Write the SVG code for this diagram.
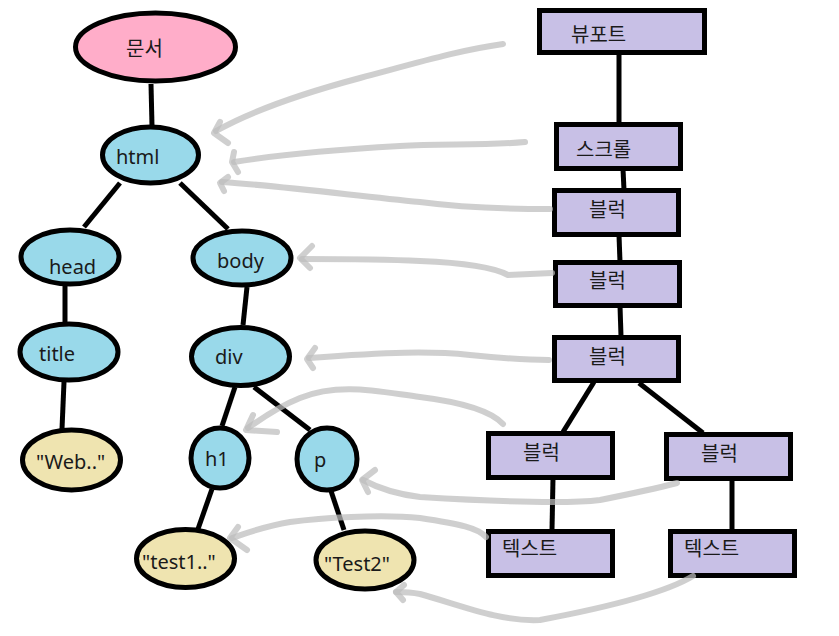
<svg xmlns="http://www.w3.org/2000/svg" width="839" height="636" viewBox="0 0 839 636">
<style>
.t{font-family:"Noto Sans","Noto Sans CJK KR",sans-serif;font-size:20px;fill:#1a1a1a}
.e{stroke:#000;stroke-width:5}
.r{fill:#c8c0e6;stroke:#000;stroke-width:5}
.ln{stroke:#000;stroke-width:5;fill:none;stroke-linecap:butt}
.ar{stroke:#bdbdbd;stroke-opacity:0.72;stroke-width:6;fill:none;stroke-linecap:round;stroke-linejoin:round}
</style>
<rect width="839" height="636" fill="#fff"/>
<g id="connectors">
<line class="ln" x1="151" y1="84" x2="152" y2="126"/>
<line class="ln" x1="120" y1="183" x2="84" y2="227"/>
<line class="ln" x1="180" y1="183" x2="228" y2="229"/>
<line class="ln" x1="65" y1="286" x2="65" y2="323"/>
<line class="ln" x1="247" y1="287" x2="243" y2="325"/>
<line class="ln" x1="64" y1="382" x2="62" y2="429"/>
<line class="ln" x1="235" y1="387" x2="222" y2="426"/>
<line class="ln" x1="254" y1="387" x2="310" y2="430"/>
<line class="ln" x1="212" y1="489" x2="198" y2="529"/>
<line class="ln" x1="331" y1="491" x2="344" y2="530"/>
<line class="ln" x1="619" y1="53" x2="619" y2="123"/>
<line class="ln" x1="623" y1="169" x2="624" y2="190"/>
<line class="ln" x1="619" y1="235" x2="620" y2="262"/>
<line class="ln" x1="620" y1="306" x2="621" y2="336"/>
<line class="ln" x1="594" y1="382" x2="563" y2="432"/>
<line class="ln" x1="639" y1="383" x2="703" y2="433"/>
<line class="ln" x1="553" y1="478" x2="552" y2="530"/>
<line class="ln" x1="732" y1="479" x2="732" y2="530"/>
</g>
<g id="n-doc"><ellipse class="e" cx="155.5" cy="47" rx="80" ry="34" fill="#ffadc9"/><text class="t" x="126" y="56">문서</text></g>
<g id="n-html"><ellipse class="e" cx="150.5" cy="155" rx="48" ry="28" fill="#99d9ea"/><text class="t" x="116" y="164">html</text></g>
<g id="n-head"><ellipse class="e" cx="70" cy="257" rx="49" ry="27" fill="#99d9ea"/><text class="t" x="49" y="274">head</text></g>
<g id="n-body"><ellipse class="e" cx="242" cy="258" rx="49" ry="27" fill="#99d9ea"/><text class="t" x="217" y="268">body</text></g>
<g id="n-title"><ellipse class="e" cx="69" cy="352" rx="49" ry="28" fill="#99d9ea"/><text class="t" x="39" y="361">title</text></g>
<g id="n-div"><ellipse class="e" cx="240.5" cy="356.5" rx="49" ry="29" fill="#99d9ea"/><text class="t" x="215" y="364">div</text></g>
<g id="n-web"><ellipse class="e" cx="71.5" cy="460" rx="49" ry="30" fill="#efe4b0"/><text class="t" x="36" y="469">"Web.."</text></g>
<g id="n-h1"><ellipse class="e" cx="220" cy="458" rx="29" ry="30" fill="#99d9ea"/><text class="t" x="205" y="466">h1</text></g>
<g id="n-p"><ellipse class="e" cx="327" cy="459" rx="30" ry="31" fill="#99d9ea"/><text class="t" x="314" y="467">p</text></g>
<g id="n-test1"><ellipse class="e" cx="185.5" cy="558.5" rx="49" ry="29" fill="#efe4b0"/><text class="t" x="142" y="569">"test1.."</text></g>
<g id="n-test2"><ellipse class="e" cx="365" cy="560" rx="49" ry="29" fill="#efe4b0"/><text class="t" x="324" y="571">"Test2"</text></g>
<g id="n-viewport"><rect class="r" x="539.5" y="10.5" width="165" height="42"/><text class="t" x="571" y="42">뷰포트</text></g>
<g id="n-scroll"><rect class="r" x="556.5" y="124.5" width="124" height="44"/><text class="t" x="576" y="157">스크롤</text></g>
<g id="n-block1"><rect class="r" x="554.5" y="190.5" width="124" height="44"/><text class="t" x="589" y="217">블럭</text></g>
<g id="n-block2"><rect class="r" x="555.5" y="262.5" width="124" height="43"/><text class="t" x="589" y="288">블럭</text></g>
<g id="n-block3"><rect class="r" x="554.5" y="337.5" width="124" height="43"/><text class="t" x="589" y="364">블럭</text></g>
<g id="n-blockL"><rect class="r" x="488.5" y="433.5" width="124" height="44"/><text class="t" x="523" y="460">블럭</text></g>
<g id="n-blockR"><rect class="r" x="666.5" y="434.5" width="124" height="44"/><text class="t" x="701" y="461">블럭</text></g>
<g id="n-textL"><rect class="r" x="488.5" y="531.5" width="124" height="44"/><text class="t" x="502" y="556">텍스트</text></g>
<g id="n-textR"><rect class="r" x="670.5" y="531.5" width="124" height="44"/><text class="t" x="684" y="556">텍스트</text></g>
<g id="arrows">
<path class="ar" d="M503,44 C460,50 420,62 360,78 C300,94 250,112 216,131"/>
<polyline class="ar" points="220,122 214,133 228,143"/>
<path class="ar" d="M525,142 C480,146 440,143 400,146 C330,150 270,156 234,162"/>
<polyline class="ar" points="234,152 232,162 238,172"/>
<path class="ar" d="M550,209 C500,209 450,206 420,202 C350,195 280,186 222,182"/>
<polyline class="ar" points="228,177 220,183 224,191"/>
<path class="ar" d="M552,273 L508,275 C495,268 470,263 420,261 C380,259 340,259 302,259"/>
<polyline class="ar" points="312,246 300,258 310,268"/>
<path class="ar" d="M549,360 C520,360 500,358 470,355 C430,351 390,352 309,358"/>
<polyline class="ar" points="315,348 307,359 313,368"/>
<path class="ar" d="M503,424 C490,410 460,402 420,397 C380,392 340,382 300,398 C280,406 262,418 248,428"/>
<polyline class="ar" points="253,415 246,430 277,432"/>
<path class="ar" d="M677,483 C650,490 620,496 600,500 C560,505 470,500 420,497 C395,494 378,488 363,480"/>
<polyline class="ar" points="375,470 362,480 368,492"/>
<path class="ar" d="M486,537 C478,528 460,524 420,518 C380,514 320,518 290,522 C265,526 250,532 232,538"/>
<polyline class="ar" points="238,527 230,538 247,550"/>
<path class="ar" d="M693,576 C670,590 620,605 540,620 C500,622 460,605 420,594 C410,592 400,592 396,592"/>
<polyline class="ar" points="404,585 396,592 403,600"/>
</g>
</svg>
